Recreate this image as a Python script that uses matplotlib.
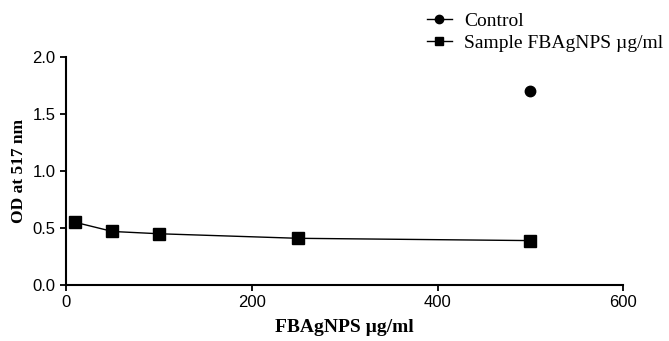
import matplotlib
matplotlib.use("Agg")
import matplotlib.pyplot as plt
from matplotlib import font_manager

plt.rcParams['font.family'] = ['Liberation Serif', 'DejaVu Serif']
names = {f.name for f in font_manager.fontManager.ttflist}
tick_family = ['Liberation Sans Narrow'] if 'Liberation Sans Narrow' in names else ['Liberation Sans']

control_x = [500]
control_y = [1.70]
sample_x = [10, 50, 100, 250, 500]
sample_y = [0.55, 0.47, 0.45, 0.41, 0.39]
xticks = [0, 200, 400, 600]
yticks = [0.0, 0.5, 1.0, 1.5, 2.0]

fig = plt.figure(figsize=(6.69, 3.41), dpi=100)
ax = fig.add_axes([0.0987, 0.164, 0.833, 0.669])

ax.plot(control_x, control_y, '-o', color='black', markersize=7.5, linewidth=1,
        label='Control')
ax.plot(sample_x, sample_y, '-s', color='black', markersize=8, linewidth=1,
        label='Sample FBAgNPS µg/ml')

ax.set_xlim(0, 600)
ax.set_ylim(0, 2.0)
ax.set_xticks(xticks)
ax.set_yticks(yticks)
ax.set_yticklabels([f'{v:.1f}' for v in yticks])
for s in ['top', 'right']:
    ax.spines[s].set_visible(False)
for s in ['left', 'bottom']:
    ax.spines[s].set_linewidth(1.5)
ax.tick_params(direction='out', length=4.5, width=1.3, pad=3, labelsize=12)
for lbl in ax.get_xticklabels() + ax.get_yticklabels():
    lbl.set_family(tick_family)
ax.set_xlabel('FBAgNPS µg/ml', fontsize=14, fontweight='bold', labelpad=6)
ax.set_ylabel('OD at 517 nm', fontsize=12.5, fontweight='bold', labelpad=4)

leg = ax.legend(loc='upper left', bbox_to_anchor=(0.638, 0.963),
                bbox_transform=fig.transFigure, frameon=False,
                handlelength=1.3, handletextpad=0.6, labelspacing=0.2,
                borderpad=0, borderaxespad=0, markerscale=0.8,
                prop={'size': 14})

fig.savefig('out.png', dpi=100)
